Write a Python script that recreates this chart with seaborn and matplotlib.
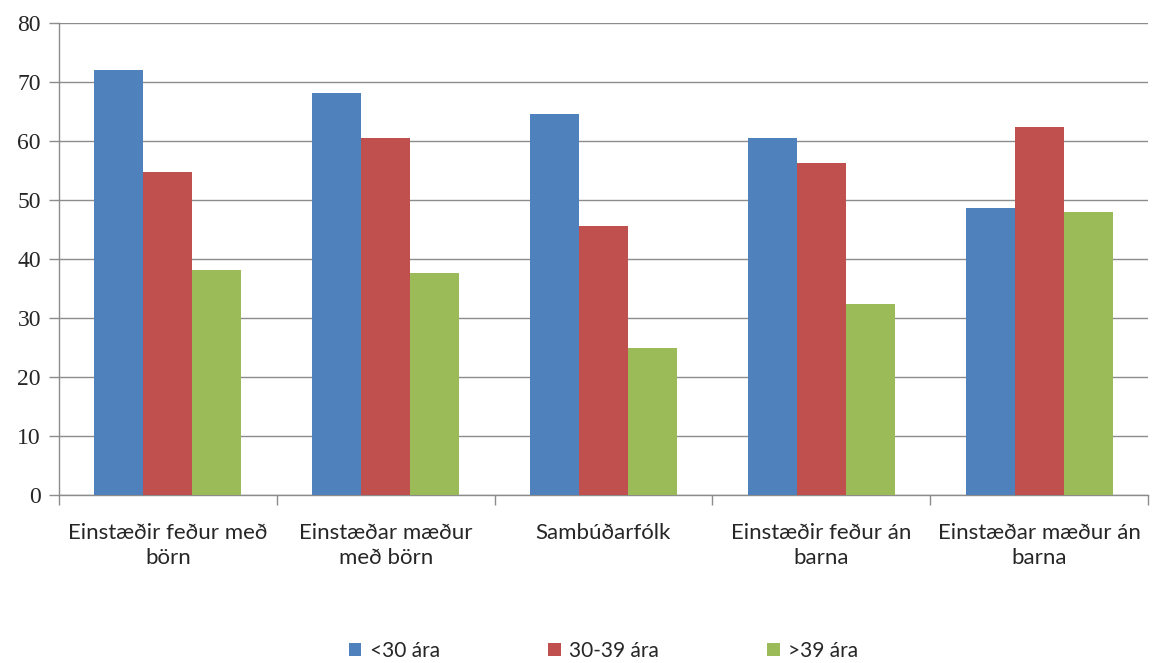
import matplotlib
matplotlib.use("Agg")
import matplotlib.pyplot as plt
import seaborn as sns
import pandas as pd

categories = [
    "Einstæðir feður með\nbörn",
    "Einstæðar mæður\nmeð börn",
    "Sambúðarfólk",
    "Einstæðir feður án\nbarna",
    "Einstæðar mæður án\nbarna",
]
series = ["<30 ára", "30-39 ára", ">39 ára"]
under_30 = [72.0, 68.1, 64.6, 60.5, 48.6]
age_30_39 = [54.7, 60.5, 45.6, 56.3, 62.4]
over_39 = [38.2, 37.6, 24.9, 32.4, 48.0]
colors = ["#4F81BD", "#C0504D", "#9BBB59"]
yticks = [0, 10, 20, 30, 40, 50, 60, 70, 80]

rows = []
for name, vals in zip(series, [under_30, age_30_39, over_39]):
    for cat, v in zip(categories, vals):
        rows.append({"Flokkur": cat, "Aldur": name, "Gildi": v})
df = pd.DataFrame(rows)

sns.set_theme(style="white")
plt.rcParams["font.family"] = ["Lato", "DejaVu Sans"]

fig = plt.figure(figsize=(11.52, 6.63), dpi=100)
ax = fig.add_axes([0.0512, 0.2534, 0.9453, 0.7119])

sns.barplot(data=df, x="Flokkur", y="Gildi", hue="Aldur", order=categories,
            hue_order=series, palette=colors, width=0.675, saturation=1,
            ax=ax, legend=True, zorder=3, edgecolor="none", linewidth=0)

ax.set_ylim(0, 80)
ax.set_xlim(-0.5, len(categories) - 0.5)
ax.set_yticks(yticks)
ax.set_yticklabels([str(t) for t in yticks], fontsize=17,
                   family=["Liberation Serif", "DejaVu Serif"])
ax.yaxis.grid(True, color="#8C8C8C", linewidth=1.0, zorder=0)
ax.set_axisbelow(True)
ax.set_xlabel("")
ax.set_ylabel("")

for side in ["top", "right"]:
    ax.spines[side].set_visible(False)
for side in ["left", "bottom"]:
    ax.spines[side].set_color("#8C8C8C")
    ax.spines[side].set_linewidth(1.0)

ax.tick_params(axis="y", which="major", left=True, direction="out", length=7,
               color="#8C8C8C", width=1.0, pad=6)
# category labels without ticks; separator ticks between groups
ax.set_xticks(range(len(categories)))
ax.set_xticklabels(categories, fontsize=16, linespacing=1.3)
ax.tick_params(axis="x", which="major", bottom=False, length=0, pad=20)
ax.set_xticks([i + 0.5 for i in range(-1, len(categories))], minor=True)
ax.tick_params(axis="x", which="minor", bottom=True, direction="out", length=7,
               color="#8C8C8C", width=1.0)

handles, labels = ax.get_legend_handles_labels()
ax.legend(handles, labels, loc="center", bbox_to_anchor=(0.5, -0.33),
          ncol=3, frameon=False, fontsize=15, handlelength=0.6,
          handleheight=0.6, handletextpad=0.4, columnspacing=5.2)

fig.savefig("out.png", dpi=100, facecolor="white")
